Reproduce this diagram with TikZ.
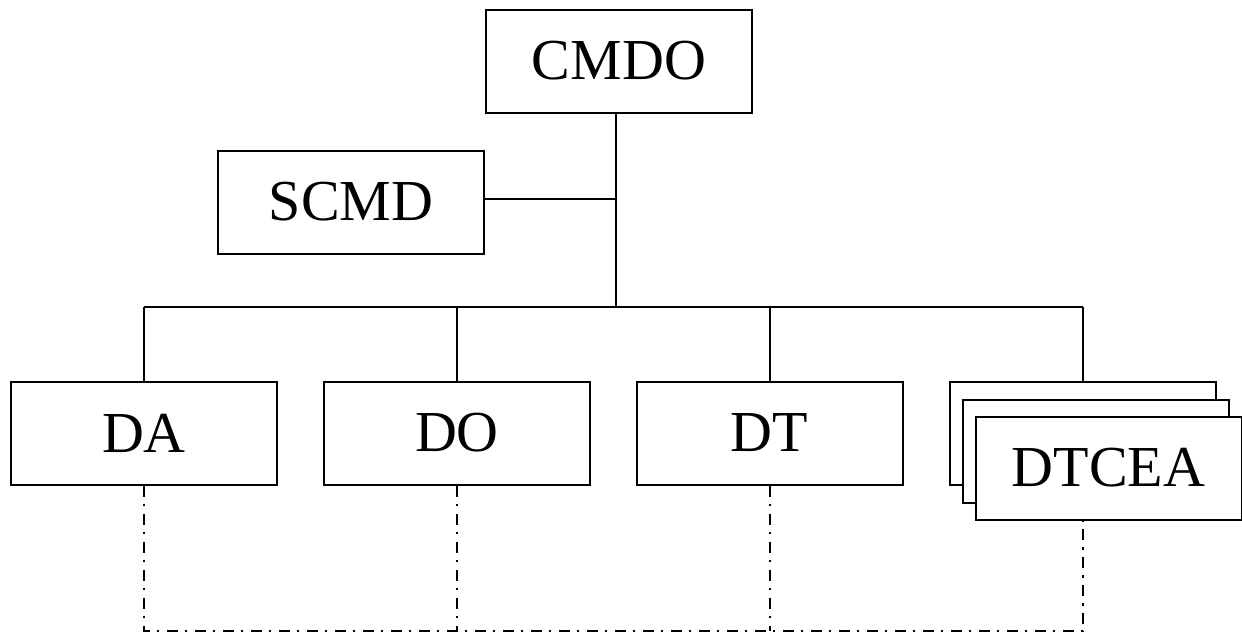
\documentclass[tikz,border=0pt]{standalone}
\usepackage{fontspec}
\setmainfont{Liberation Serif}
\begin{document}
\begin{tikzpicture}[x=1pt,y=-1pt,
  unitbox/.style={draw,line width=2pt,fill=white,minimum width=266pt,minimum height=103pt,inner sep=0pt,font=\fontsize{58}{58}\selectfont},
  link/.style={line width=2pt},
  dotlink/.style={line width=2pt,dash pattern=on 11pt off 7pt on 2.5pt off 7.5pt}]
\useasboundingbox (0,0) rectangle (1242,633);
\node[unitbox] (cmdo) at (619,61) {CMDO};
\node[unitbox] (scmd) at (351,202) {SCMD};
\node[unitbox] (da) at (144,433) {DA};
\node[unitbox] (do) at (457,433) {DO};
\node[unitbox] (dt) at (769.5,433) {DT};
\node[unitbox] (dtb) at (1083,433) {};
\node[unitbox] (dtm) at (1096,451) {};
\node[unitbox] (dtf) at (1108.5,468) {DTCEA};
\coordinate (bus) at (616,307);
\coordinate (base) at (616,631);
\coordinate (tap) at ([yshift=3pt]scmd.east);
\draw[link] (cmdo.south -| bus) -- (bus);
\draw[link] (tap) -- (tap -| bus);
\draw[link] (da.north |- bus) -- (dtb.north |- bus);
\draw[link] (da.north |- bus) -- (da.north);
\draw[link] (do.north |- bus) -- (do.north);
\draw[link] (dt.north |- bus) -- (dt.north);
\draw[link] (dtb.north |- bus) -- (dtb.north);
\draw[dotlink] (da.south) -- (da.south |- base) -- (dtb.north |- base) -- (dtb.north |- dtf.south);
\draw[dotlink] (do.south) -- (do.south |- base);
\draw[dotlink] (dt.south) -- (dt.south |- base);
\end{tikzpicture}
\end{document}
